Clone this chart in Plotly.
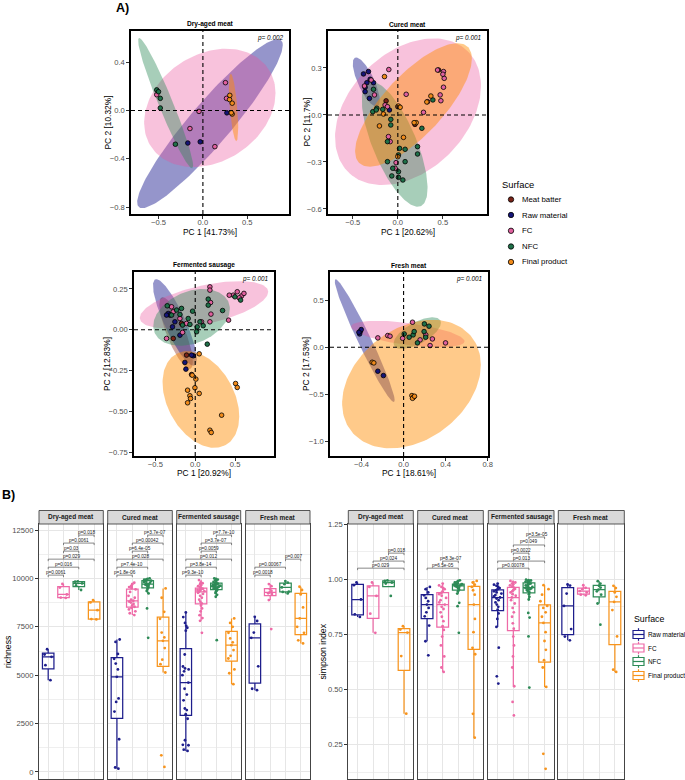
import numpy as np
import plotly.graph_objects as go

W, H = 685, 780
FONT = "Liberation Sans, Arial, sans-serif"

# ------------------------------------------------------------------ colours
surfaces = ["Meat batter", "Raw material", "FC", "NFC", "Final product"]
box_groups = ["Raw material", "FC", "NFC", "Final product"]
point_fill = {"Meat batter": "#7A2418", "Raw material": "#141478", "FC": "#E0609E",
              "NFC": "#1E7048", "Final product": "#F08A1A"}
ellipse_fill = {"Meat batter": "rgba(139,42,26,0.40)", "Raw material": "rgba(20,20,140,0.45)",
                "FC": "rgba(235,80,155,0.35)", "NFC": "rgba(46,139,87,0.42)",
                "Final product": "rgba(255,140,0,0.46)"}
box_color = {"Raw material": "#1E1E8C", "FC": "#EE6AA7", "NFC": "#2E8B57", "Final product": "#F7941D"}

# ------------------------------------------------------------------ PCA data
panels = ["Dry-aged meat", "Cured meat", "Fermented sausage", "Fresh meat"]
pc1_titles = ["PC 1 [41.73%]", "PC 1 [20.62%]", "PC 1 [20.92%]", "PC 1 [18.61%]"]
pc2_titles = ["PC 2 [10.32%]", "PC 2 [11.7%]", "PC 2 [12.83%]", "PC 2 [17.53%]"]
permanova_p = ["p= 0.002", "p= 0.001", "p= 0.001", "p= 0.001"]

dry_aged_scores = {
    "Raw material": ([-0.17, -0.03, 0.27], [-0.27, -0.26, -0.02]),
    "FC": ([-0.52, -0.146, -0.044, 0.135, 0.254, 0.266], [0.13, -0.15, -0.008, -0.30, 0.23, 0.10]),
    "NFC": ([-0.52, -0.50, -0.48, -0.48, -0.31], [0.17, 0.155, 0.10, 0.02, -0.28]),
    "Final product": ([0.30, 0.303, 0.33, 0.33, 0.32], [0.09, 0.125, 0.06, -0.03, -0.02]),
}
cured_scores = {
    "Meat batter": ([0.452, -0.13, 0.19], [0.287, 0.09, -0.06]),
    "Raw material": ([-0.381, -0.326, -0.344, -0.363, -0.315, -0.270, -0.093, -0.363, -0.307],
                     [0.262, 0.277, 0.206, 0.177, 0.106, 0.206, 0.032, 0.149, 0.228]),
    "FC": ([-0.10, -0.37, -0.296, -0.259, -0.141, -0.115, 0.093, -0.104, -0.085, 0.441, 0.507,
            0.515, 0.47, 0.507, 0.478, 0.33, 0.285, -0.019, -0.03, 0.0, 0.5],
           [0.29, 0.185, 0.223, 0.128, 0.064, 0.053, 0.132, -0.138, -0.17, 0.287, 0.277,
            0.234, 0.128, 0.177, 0.091, 0.085, 0.017, -0.304, -0.34, 0.053, 0.26]),
    "NFC": ([-0.278, -0.233, -0.167, -0.078, -0.078, -0.115, 0.019, 0.007, 0.081, 0.219, 0.219,
             0.081, -0.115, -0.056, 0.007, 0.007, -0.067, 0.056, 0.267, 0.389, -0.27, -0.24],
            [0.021, 0.043, 0.036, -0.028, -0.064, -0.17, -0.213, -0.255, -0.219, -0.202, -0.249,
             -0.298, -0.298, -0.34, -0.362, -0.398, -0.389, -0.415, -0.085, 0.096, 0.164, 0.032]),
    "Final product": ([-0.148, 0.007, 0.026, 0.063, 0.204, 0.367, 0.322, -0.204, -0.159, 0.181, 0.0],
                      [0.245, 0.057, 0.049, -0.143, -0.049, 0.121, 0.083, -0.07, 0.006, -0.049, -0.266]),
}
fermented_scores = {
    "Meat batter": ([-0.172, -0.276, -0.109, -0.046], [0.039, -0.053, -0.155, -0.274]),
    "Raw material": ([-0.339, -0.318, -0.285, -0.192, -0.255, -0.13, -0.117, -0.025, -0.046, -0.36],
                     [0.10, 0.09, 0.018, -0.033, 0.049, -0.20, -0.241, -0.159, -0.155, 0.09]),
    "FC": ([0.477, 0.527, 0.582, 0.611, 0.552, 0.427, 0.184, 0.184, 0.192, 0.197, 0.418,
            -0.276, -0.192, -0.109, -0.297, -0.36, -0.159, 0.184, 0.079],
           [0.212, 0.233, 0.208, 0.223, 0.196, 0.212, 0.263, 0.243, 0.167, 0.096, 0.059,
            0.11, 0.069, 0.039, 0.141, -0.053, -0.016, 0.049, 0.049]),
    "NFC": ([0.498, 0.569, 0.163, 0.343, 0.163, 0.059, 0.025, -0.172, -0.234, -0.297, -0.192,
             -0.088, 0.151, -0.033, 0.017, -0.067, 0.10, -0.351, -0.159],
            [0.202, 0.182, 0.188, 0.118, 0.151, 0.049, 0.018, 0.131, 0.121, 0.09, 0.094,
             0.069, -0.088, 0.114, -0.012, 0.033, 0.025, 0.147, 0.029]),
    "Final product": ([-0.038, 0.008, -0.096, -0.067, -0.059, -0.096, -0.004, 0.05, 0.506, 0.527,
                       0.331, 0.184, 0.201, 0.05],
                      [-0.278, -0.302, -0.37, -0.404, -0.421, -0.447, -0.355, -0.39, -0.329, -0.353,
                       -0.523, -0.615, -0.629, -0.147]),
}
fresh_scores = {
    "Raw material": ([-0.412, -0.403, -0.418, -0.425, -0.245, -0.192],
                     [0.166, 0.187, 0.141, 0.159, -0.254, -0.30]),
    "FC": ([-0.245, -0.151, -0.129, -0.009, 0.085, 0.157, 0.211, 0.274, 0.252, 0.399],
           [0.099, 0.124, 0.117, 0.095, 0.265, 0.078, 0.131, 0.088, 0.018, 0.046]),
    "NFC": ([0.006, 0.053, 0.091, 0.101, 0.132, 0.195, 0.198, 0.242, 0.21],
            [0.141, 0.106, 0.131, 0.166, 0.046, 0.166, 0.247, 0.223, 0.106]),
    "Final product": ([-0.299, -0.283, 0.079, 0.094, 0.085, 0.104],
                      [-0.159, -0.166, -0.512, -0.53, -0.541, -0.519]),
}
pca_scores = [dry_aged_scores, cured_scores, fermented_scores, fresh_scores]

# confidence ellipses: (centre x, centre y, x half-extent, y half-extent, correlation)
dry_aged_ellipses = {
    "Raw material": (0.08, -0.11, 0.82, 0.70, 0.93),
    "FC": (0.078, 0.021, 0.74, 0.49, 0.25),
    "NFC": (-0.42, 0.06, 0.31, 0.54, -0.96),
    "Final product": (0.345, 0.025, 0.053, 0.28, -0.6),
}
cured_ellipses = {
    "Raw material": (-0.35, 0.21, 0.15, 0.157, -0.75),
    "FC": (0.113, 0.021, 0.81, 0.468, 0.35),
    "NFC": (-0.035, -0.186, 0.365, 0.40, -0.7),
    "Final product": (0.174, 0.064, 0.648, 0.394, 0.75),
}
fermented_ellipses = {
    "Meat batter": (-0.24, -0.02, 0.21, 0.22, -0.8),
    "Raw material": (-0.255, 0.045, 0.275, 0.265, -0.85),
    "FC": (0.11, 0.153, 0.805, 0.145, 0.55),
    "NFC": (-0.046, 0.076, 0.48, 0.174, 0.3),
    "Final product": (0.071, -0.427, 0.481, 0.296, -0.35),
}
fresh_ellipses = {
    "Raw material": (-0.37, 0.07, 0.285, 0.65, -0.97),
    "FC": (0.04, 0.14, 0.54, 0.14, -0.55),
    "NFC": (0.13, 0.15, 0.225, 0.168, 0.65),
    "Final product": (0.075, -0.39, 0.66, 0.68, 0.3),
}
pca_ellipses = [dry_aged_ellipses, cured_ellipses, fermented_ellipses, fresh_ellipses]

# ------------------------------------------------------------------ alpha diversity data
richness_dry_aged = {
    "Raw material": [4740, 5520, 5950, 6070, 6340],
    "FC": [8990, 9010, 9170, 9530, 9710],
    "NFC": [9400, 9640, 9740, 9830, 9850],
    "Final product": [7880, 7900, 8360, 8760, 8880],
}
richness_cured = {
    "Raw material": [173, 230, 1690, 3121, 3620, 3800, 4914, 5300, 5600, 5845, 6100, 6720, 6845],
    "FC": [8104, 8200, 8300, 8400, 8480, 8535, 8600, 8680, 8750, 8800, 8845, 8900, 9000, 9100,
           9300, 9431, 9500, 9550, 9600, 9700, 9776],
    "NFC": [6930, 8450, 9224, 9350, 9450, 9534, 9580, 9620, 9650, 9680, 9707, 9740, 9780, 9820,
            9850, 9879, 9900, 9930, 9950, 9980, 10000],
    "Final product": [259, 862, 5138, 5569, 5800, 6400, 6776, 6950, 7200, 7914, 8276, 9000, 9483],
}
richness_fermented = {
    "Raw material": [1086, 1150, 1380, 1400, 1640, 2750, 2983, 3200, 3280, 3700, 4000, 4300, 4621,
                     5000, 5200, 5300, 5350, 5450, 6069, 7300, 7450, 7550, 7700, 8000, 8241],
    "FC": [7190, 7810, 7950, 8100, 8300, 8450, 8600, 8707, 8800, 8900, 9000, 9100, 9200, 9260, 9310,
           9340, 9370, 9400, 9420, 9440, 9460, 9483, 9550, 9600, 9650, 9700, 9750, 9800, 9914],
    "NFC": [6810, 9052, 9150, 9250, 9320, 9380, 9410, 9431, 9460, 9490, 9520, 9550, 9570, 9590, 9603,
            9620, 9640, 9660, 9690, 9710, 9725, 9741, 9780, 9820, 9860, 9900, 9940, 9970, 10000],
    "Final product": [4535, 5100, 5300, 5862, 6000, 6300, 6552, 6700, 6900, 7190, 7500, 7700, 7931],
}
richness_fresh = {
    "Raw material": [4224, 4300, 5460, 6931, 7200, 7800, 8017],
    "FC": [7380, 8880, 9190, 9230, 9276, 9350, 9431, 9600, 9707],
    "NFC": [9224, 9300, 9320, 9534, 9700, 9780, 9862],
    "Final product": [6640, 6800, 7190, 7500, 7931, 8500, 9172, 9400, 9569],
}
simpson_dry_aged = {
    "Raw material": [0.829, 0.841, 0.908, 0.973, 0.985],
    "FC": [0.757, 0.844, 0.924, 0.965, 0.985],
    "NFC": [0.924, 0.980, 0.985, 0.992, 0.995],
    "Final product": [0.391, 0.652, 0.758, 0.772, 0.787],
}
simpson_cured = {
    "Raw material": [0.655, 0.719, 0.790, 0.832, 0.850, 0.870, 0.885, 0.900, 0.915, 0.927, 0.940,
                     0.955, 0.965],
    "FC": [0.580, 0.600, 0.650, 0.700, 0.740, 0.770, 0.787, 0.810, 0.830, 0.850, 0.865, 0.875, 0.885,
           0.895, 0.905, 0.915, 0.925, 0.932, 0.938, 0.945, 0.955, 0.960, 0.965, 0.972, 0.980],
    "NFC": [0.757, 0.878, 0.893, 0.935, 0.945, 0.953, 0.958, 0.962, 0.965, 0.968, 0.970, 0.972,
            0.974, 0.975, 0.976, 0.977, 0.980, 0.985, 0.988, 0.992, 0.995],
    "Final product": [0.282, 0.390, 0.660, 0.689, 0.760, 0.820, 0.885, 0.930, 0.950, 0.965, 0.975,
                      0.985, 0.992],
}
simpson_fermented = {
    "Raw material": [0.527, 0.560, 0.690, 0.784, 0.820, 0.845, 0.862, 0.875, 0.885, 0.895, 0.905,
                     0.912, 0.917, 0.922, 0.928, 0.935, 0.940, 0.945, 0.950, 0.955, 0.960, 0.965,
                     0.970, 0.975, 0.980],
    "FC": [0.383, 0.444, 0.515, 0.600, 0.650, 0.700, 0.740, 0.776, 0.800, 0.830, 0.850, 0.870, 0.890,
           0.905, 0.917, 0.925, 0.932, 0.940, 0.945, 0.950, 0.956, 0.962, 0.967, 0.972, 0.977, 0.980,
           0.985, 0.988, 0.992],
    "NFC": [0.509, 0.741, 0.826, 0.847, 0.908, 0.920, 0.932, 0.940, 0.945, 0.950, 0.954, 0.956,
            0.958, 0.960, 0.962, 0.965, 0.968, 0.972, 0.975, 0.978, 0.980, 0.983, 0.985, 0.988,
            0.990, 0.992, 0.994, 0.996, 0.998],
    "Final product": [0.141, 0.209, 0.512, 0.600, 0.633, 0.680, 0.720, 0.760, 0.802, 0.830, 0.850,
                      0.870, 0.879, 0.900, 0.930, 0.955, 0.973],
}
simpson_fresh = {
    "Raw material": [0.723, 0.740, 0.774, 0.879, 0.935, 0.971, 0.976],
    "FC": [0.927, 0.930, 0.940, 0.946, 0.955, 0.961, 0.973],
    "NFC": [0.794, 0.890, 0.930, 0.945, 0.953, 0.962, 0.970, 0.980, 0.991],
    "Final product": [0.580, 0.590, 0.741, 0.860, 0.897, 0.920, 0.940, 0.960, 0.970],
}
richness_data = [richness_dry_aged, richness_cured, richness_fermented, richness_fresh]
simpson_data = [simpson_dry_aged, simpson_cured, simpson_fermented, simpson_fresh]

# pairwise Wilcoxon comparisons (group index i, group index j, label)
richness_pvals = [
    [(0, 1, "p=0.0061"), (0, 2, "p=0.016"), (0, 3, "p=0.029"), (1, 2, "p=0.03"), (1, 3, "p=0.0061"), (2, 3, "p=0.018")],
    [(0, 1, "p=1.8e-06"), (0, 2, "p=7.4e-10"), (0, 3, "p=0.028"), (1, 2, "p=6.4e-05"), (1, 3, "p=0.00042"), (2, 3, "p=3.7e-07")],
    [(0, 1, "p=9.3e-10"), (0, 2, "p=3.8e-14"), (0, 3, "p=0.012"), (1, 2, "p=0.0059"), (1, 3, "p=3.7e-07"), (2, 3, "p=7.7e-10")],
    [(0, 1, "p=0.0018"), (0, 2, "p=0.00067"), (2, 3, "p=0.007")],
]
simpson_pvals = [
    [(0, 3, "p=0.029"), (1, 3, "p=0.024"), (2, 3, "p=0.018")],
    [(0, 2, "p=6.5e-05"), (1, 2, "p=8.3e-07")],
    [(0, 2, "p=0.00078"), (0, 3, "p=0.013"), (1, 2, "p=0.0022"), (1, 3, "p=0.049"), (2, 3, "p=3.5e-05")],
    [],
]
richness_levels = [10170, 10580, 10995, 11410, 11825, 12240]
simpson_levels = [1.05, 1.082, 1.118, 1.155, 1.191]

# ------------------------------------------------------------------ geometry (pixels)
pca_boxes = [(131, 289, 31, 214), (328, 487, 31, 214), (134, 274, 272, 456), (330, 488, 272, 456)]
pca_xrange = [[-0.81, 0.97], [-0.775, 0.99], [-0.768, 0.988], [-0.70, 0.803]]
pca_yrange = [[-0.858, 0.658], [-0.632, 0.536], [-0.773, 0.354], [-1.152, 0.797]]
pca_dx = [0.5, 0.5, 0.5, 0.4]
pca_dy = [0.4, 0.3, 0.25, 0.5]
pca_yfmt = [".1f", ".1f", ".2f", ".1f"]
pc2_title_x = [107, 306, 107, 306]

rich_cols = [(39, 103.3), (107.7, 172.3), (176.7, 240.7), (245.7, 310)]
simp_cols = [(348.3, 413.3), (417.7, 483.3), (488.3, 554), (558.3, 624.3)]
B_TOP, B_BOT, STRIP_TOP = 524, 779, 510.5


def px(x):
    return x / W


def py(y):
    return 1 - y / H


def ellipse_xy(cx, cy, rx, ry, rho, n=160):
    t = np.linspace(0, 2 * np.pi, n)
    d = np.arccos(rho)
    return cx + rx * np.cos(t), cy + ry * np.cos(t + d)


def note(x, y, text, size, xanchor="center", yanchor="middle", angle=0, color="black", xref="paper", yref="paper",
         yshift=0):
    if xref == "paper":
        x, y = px(x), py(y)
    return dict(xref=xref, yref=yref, x=x, y=y, text=text, showarrow=False, xanchor=xanchor,
                yanchor=yanchor, textangle=angle, yshift=yshift,
                font=dict(size=size, family=FONT, color=color))


fig = go.Figure()
layout = dict(width=W, height=H, margin=dict(l=0, r=0, t=0, b=0, autoexpand=False), paper_bgcolor="white",
              plot_bgcolor="white", showlegend=False, font=dict(family=FONT, color="black"))
shapes, annotations = [], []


def axname(i):
    return "" if i == 1 else str(i)


tickfont = dict(size=7.6, color="#4D4D4D", family=FONT)

# ------------------------------------------------------------------ part A
for k in range(4):
    a = k + 1
    xr, yr = f"x{axname(a)}", f"y{axname(a)}"
    l, r, t, b = pca_boxes[k]
    common = dict(showgrid=False, zeroline=False, showline=True, mirror=True, linecolor="black",
                  linewidth=1.5, ticks="outside", ticklen=3, tickwidth=0.8, tickcolor="#333333",
                  tickfont=tickfont, tick0=0, automargin=False)
    layout[f"xaxis{axname(a)}"] = dict(domain=[px(l), px(r)], range=pca_xrange[k], dtick=pca_dx[k],
                                       tickformat=".1f", anchor=yr, ticklabelstandoff=-3, **common)
    layout[f"yaxis{axname(a)}"] = dict(domain=[py(b), py(t)], range=pca_yrange[k], dtick=pca_dy[k],
                                       tickformat=pca_yfmt[k], anchor=xr, **common)
    for g in surfaces:
        if g in pca_ellipses[k]:
            ex, ey = ellipse_xy(*pca_ellipses[k][g])
            fig.add_trace(go.Scatter(x=ex, y=ey, mode="lines", fill="toself", line=dict(width=0),
                                     fillcolor=ellipse_fill[g], xaxis=xr, yaxis=yr, hoverinfo="skip"))
    for g in surfaces:
        if g in pca_scores[k]:
            sx, sy = pca_scores[k][g]
            fig.add_trace(go.Scatter(x=sx, y=sy, mode="markers", name=g, xaxis=xr, yaxis=yr,
                                     marker=dict(size=4.6, color=point_fill[g],
                                                 line=dict(color="black", width=0.8))))
    dash = dict(color="black", width=1.1, dash="4px,3px")
    shapes.append(dict(type="line", xref=xr, yref=f"{yr} domain", x0=0, x1=0, y0=0, y1=1, line=dash, layer="above"))
    shapes.append(dict(type="line", xref=f"{xr} domain", yref=yr, x0=0, x1=1, y0=0, y1=0, line=dash, layer="above"))
    annotations.append(note((l + r) / 2, t - 7, f"<b>{panels[k]}</b>", 6.6))
    annotations.append(note(r - 3, t + 7, f"<i>{permanova_p[k]}</i>", 6.4, xanchor="right"))
    annotations.append(note((l + r) / 2, b + 17.5, pc1_titles[k], 8.4))
    annotations.append(note(pc2_title_x[k], (t + b) / 2, pc2_titles[k], 8.4, angle=-90))

annotations.append(note(114, 8, "<b>A)</b>", 12.5, xanchor="left"))
annotations.append(note(0, 495, "<b>B)</b>", 12.5, xanchor="left"))

# legend A (circles)
annotations.append(note(500, 184, "Surface", 9.4, xanchor="left"))
legA_y = [199.5, 215, 230.8, 246.5, 262]
for g, yy in zip(surfaces, legA_y):
    shapes.append(dict(type="circle", xref="paper", yref="paper", x0=px(508.3), x1=px(513.7),
                       y0=py(yy + 2.7), y1=py(yy - 2.7), fillcolor=point_fill[g],
                       line=dict(color="black", width=0.8)))
    annotations.append(note(519.5, yy, g, 7.8, xanchor="left"))


# ------------------------------------------------------------------ part B
def b_panels(cols, data, pvals, levels, yrange, dtick, minor, fmt, first_axis, tip, title, title_x):
    for k in range(4):
        a = first_axis + k
        xr, yr = f"x{a}", f"y{a}"
        l, r = cols[k]
        layout[f"xaxis{a}"] = dict(domain=[px(l), px(r)], type="category", categoryorder="array",
                                   categoryarray=box_groups, range=[-0.6, 3.6], showticklabels=False,
                                   ticks="", showgrid=True, gridcolor="#E6E6E6", gridwidth=1,
                                   zeroline=False, showline=True, mirror=True, linecolor="#444444",
                                   linewidth=1, anchor=yr, automargin=False)
        layout[f"yaxis{a}"] = dict(domain=[py(B_BOT), py(B_TOP)], range=yrange, dtick=dtick, tick0=0,
                                   tickformat=fmt, showgrid=True, gridcolor="#E6E6E6", gridwidth=1,
                                   minor=dict(dtick=minor, showgrid=True, gridcolor="#EFEFEF", gridwidth=0.6),
                                   zeroline=False, showline=True, mirror=True, linecolor="#444444",
                                   linewidth=1, anchor=xr, showticklabels=(k == 0),
                                   ticks="outside" if k == 0 else "", ticklen=3, tickwidth=0.8,
                                   tickcolor="#333333", tickfont=tickfont, automargin=False)
        for g in box_groups:
            vals = data[k][g]
            fig.add_trace(go.Box(x=[g] * len(vals), y=vals, xaxis=xr, yaxis=yr, name=g,
                                 boxpoints="all", jitter=0.75, pointpos=0, width=0.75, whiskerwidth=0,
                                 line=dict(color=box_color[g], width=1.25), fillcolor="rgba(0,0,0,0)",
                                 marker=dict(color=box_color[g], size=2.8), hoverinfo="skip"))
        for idx, (i, j, lab) in enumerate(pvals[k]):
            lv = levels[idx]
            ln = dict(color="#555555", width=0.7)
            shapes.append(dict(type="line", xref=xr, yref=yr, x0=i, x1=j, y0=lv, y1=lv, line=ln))
            shapes.append(dict(type="line", xref=xr, yref=yr, x0=i, x1=i, y0=lv, y1=lv - tip, line=ln))
            shapes.append(dict(type="line", xref=xr, yref=yr, x0=j, x1=j, y0=lv, y1=lv - tip, line=ln))
            annotations.append(note((i + j) / 2, lv, lab, 4.7, yanchor="bottom", color="#222222",
                                    xref=xr, yref=yr, yshift=-1.5))
        # strip
        shapes.append(dict(type="rect", xref="paper", yref="paper", x0=px(l), x1=px(r), y0=py(B_TOP),
                           y1=py(STRIP_TOP), fillcolor="#D9D9D9", line=dict(color="#444444", width=0.9),
                           layer="above"))
        annotations.append(note((l + r) / 2, (B_TOP + STRIP_TOP) / 2, f"<b>{panels[k]}</b>", 6.5,
                                color="#1A1A1A"))
    annotations.append(note(title_x, (B_TOP + B_BOT) / 2, title, 8.7, angle=-90))


b_panels(rich_cols, richness_data, richness_pvals, richness_levels, [-363, 12811], 2500, 1250, "d",
         5, 104, "richness", 7.5)
b_panels(simp_cols, simpson_data, simpson_pvals, simpson_levels, [0.095, 1.25], 0.25, 0.125, ".2f",
         9, 0.009, "simpson index", 322)

# legend B (box keys)
annotations.append(note(632, 619, "Surface", 8.8, xanchor="left"))
legB_y = [634.5, 648, 661.5, 675.5]
for g, yy in zip(box_groups, legB_y):
    c = box_color[g]
    shapes.append(dict(type="rect", xref="paper", yref="paper", x0=px(633), x1=px(644), y0=py(yy + 4),
                       y1=py(yy - 4), line=dict(color=c, width=1.2), fillcolor="white"))
    shapes.append(dict(type="line", xref="paper", yref="paper", x0=px(633), x1=px(644), y0=py(yy), y1=py(yy),
                       line=dict(color=c, width=1.2)))
    shapes.append(dict(type="line", xref="paper", yref="paper", x0=px(638.5), x1=px(638.5), y0=py(yy - 4),
                       y1=py(yy - 6.3), line=dict(color=c, width=1.2)))
    shapes.append(dict(type="line", xref="paper", yref="paper", x0=px(638.5), x1=px(638.5), y0=py(yy + 4),
                       y1=py(yy + 6.3), line=dict(color=c, width=1.2)))
    annotations.append(note(645.5, yy, g, 6.4, xanchor="left"))

layout["shapes"] = shapes
layout["annotations"] = annotations
fig.update_layout(**layout)
fig.write_html("out.html", config={"displayModeBar": False},
               post_script="document.body.style.margin='0';document.body.style.padding='0';"
                           "document.body.style.overflow='hidden';")
